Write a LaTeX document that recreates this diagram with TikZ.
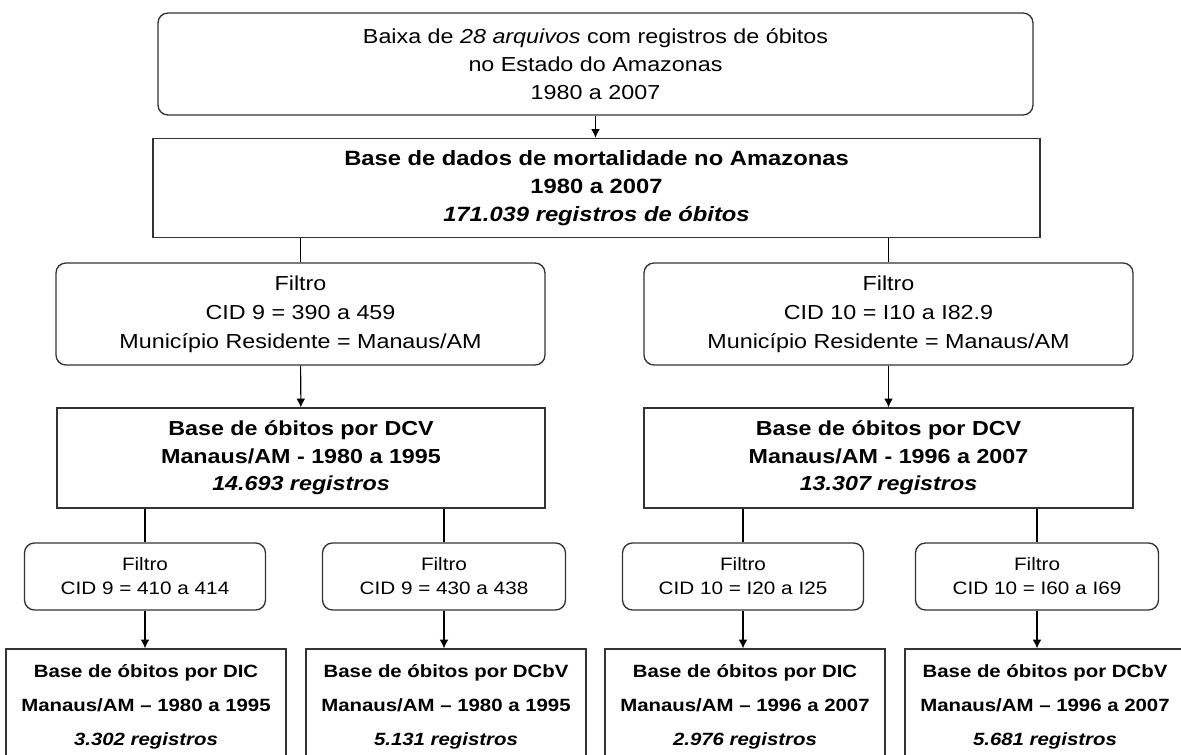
\documentclass[tikz,border=0pt]{standalone}
\usepackage{fontspec}
\setmainfont{Liberation Sans}[FakeStretch=1.15]
\usepackage{xcolor}
\usepackage{tikz}
\usetikzlibrary{positioning}
\usetikzlibrary{arrows.meta}
\tikzset{edge/.style = {->,> = {Latex[length=6.5pt,width=6.5pt]}}}
\tikzset{line/.style = {-}}

\begin{document}
\begin{tikzpicture}[x=0.75pt,y=-0.75pt,line width=0.8pt,
    boxsize/.style 2 args={minimum width=#1*0.75pt,minimum height=#2*0.75pt},
    box/.style={draw=black!80,line width=1pt,align=center,inner sep=0pt},
    round box/.style={box,rounded corners=7.5pt},
    big text/.style={font=\fontsize{15.2}{21.75}\selectfont},
    big bold/.style={font=\fontsize{15.2}{20.6}\selectfont\bfseries},
    small text/.style={font=\fontsize{13.5}{18}\selectfont},
    small bold/.style={font=\fontsize{13.3}{25.5}\selectfont\bfseries}]
    \useasboundingbox (0,0) rectangle (1181,755);

    \node[round box,boxsize={875}{102},font=\fontsize{15.2}{21}\selectfont] (baixa) at (595.5,64)
        {Baixa de \textit{28 arquivos} com registros de óbitos\\ no Estado do Amazonas\\ 1980 a 2007};
    \node[box,boxsize={887}{99},font=\fontsize{15.5}{21}\selectfont\bfseries] (base) at (596.5,188)
        {Base de dados de mortalidade no Amazonas\\ 1980 a 2007\\ \textit{171.039 registros de óbitos}};

    \node[round box,boxsize={489}{102},big text] (filtro9) at (300.5,314)
        {Filtro\\ CID 9 = 390 a 459\\ Município Residente = Manaus/AM};
    \node[round box,boxsize={489}{102},big text] (filtro10) at (888.5,314)
        {Filtro\\ CID 10 = I10 a I82.9\\ Município Residente = Manaus/AM};

    \node[box,boxsize={488}{100},big bold] (dcv9) at (301,458)
        {Base de óbitos por DCV\\ Manaus/AM - 1980 a 1995\\ \textit{14.693 registros}};
    \node[box,boxsize={489}{100},big bold] (dcv10) at (888.5,458)
        {Base de óbitos por DCV\\ Manaus/AM - 1996 a 2007\\ \textit{13.307 registros}};

    \node[round box,boxsize={241}{67},small text] (fdic9) at (145,576.5)
        {Filtro\\ CID 9 = 410 a 414};
    \node[round box,boxsize={243}{67},small text] (fdcbv9) at (444,576.5)
        {Filtro\\ CID 9 = 430 a 438};
    \node[round box,boxsize={241}{67},small text] (fdic10) at (743,576.5)
        {Filtro\\ CID 10 = I20 a I25};
    \node[round box,boxsize={243}{67},small text] (fdcbv10) at (1037,576.5)
        {Filtro\\ CID 10 = I60 a I69};

    \node[box,boxsize={280}{115},small bold] (bdic9) at (146,706.5)
        {Base de óbitos por DIC\\ Manaus/AM – 1980 a 1995\\ \textit{3.302 registros}};
    \node[box,boxsize={280}{115},small bold] (bdcbv9) at (446,706.5)
        {Base de óbitos por DCbV\\ Manaus/AM – 1980 a 1995\\ \textit{5.131 registros}};
    \node[box,boxsize={280}{115},small bold] (bdic10) at (745,706.5)
        {Base de óbitos por DIC\\ Manaus/AM – 1996 a 2007\\ \textit{2.976 registros}};
    \node[box,boxsize={280}{115},small bold] (bdcbv10) at (1045,706.5)
        {Base de óbitos por DCbV\\ Manaus/AM – 1996 a 2007\\ \textit{5.681 registros}};

    \path[edge]
        (baixa.south) edge (baixa.south |- base.north)
        (filtro9) edge (dcv9)
        (filtro10) edge (dcv10)
        (fdic9) edge (fdic9 |- bdic9.north)
        (fdcbv9) edge (fdcbv9 |- bdcbv9.north)
        (fdic10) edge (fdic10 |- bdic10.north)
        (fdcbv10) edge (fdcbv10 |- bdcbv10.north)
        ;
    \path[line]
        (base.south -| filtro9) edge (filtro9)
        (base.south -| filtro10) edge (filtro10)
        (dcv9.south -| fdic9) edge (fdic9)
        (dcv9.south -| fdcbv9) edge (fdcbv9)
        (dcv10.south -| fdic10) edge (fdic10)
        (dcv10.south -| fdcbv10) edge (fdcbv10)
        ;
\end{tikzpicture}
\end{document}
